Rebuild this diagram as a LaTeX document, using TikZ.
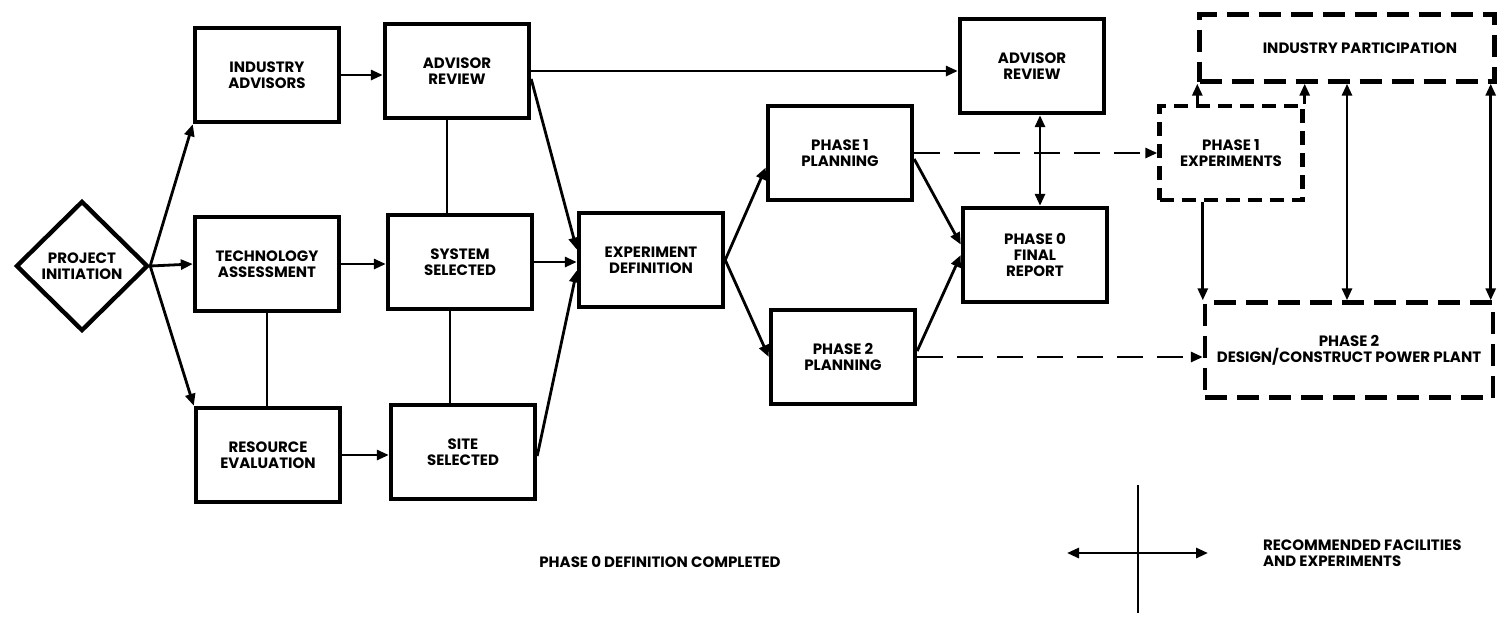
\documentclass[tikz,border=0pt]{standalone}
\usepackage{fontspec}
\setmainfont{Poppins}
\usetikzlibrary{arrows.meta,shapes.geometric}

\tikzset{
    stage/.style={draw, line width=2.2pt, minimum width=72pt, minimum height=47pt, inner sep=0pt, align=center, font=\fontsize{7.5}{7.8}\selectfont\bfseries},
    decision/.style={draw, diamond, line width=2.2pt, minimum width=66pt, minimum height=65pt, inner sep=0pt, align=center, font=\fontsize{7.5}{7.8}\selectfont\bfseries},
    future/.style={stage, dash pattern=on 11pt off 5pt},
    link/.style={line width=1.4pt},
    flow/.style={link, -{Triangle[length=6pt,width=5pt]}},
    both/.style={link, {Triangle[length=6pt,width=5pt]}-{Triangle[length=6pt,width=5pt]}},
    later/.style={flow, dash pattern=on 13pt off 7pt},
    note/.style={font=\fontsize{7.5}{7.8}\selectfont\bfseries, align=left}
}

\begin{document}
\begin{tikzpicture}[x=0.5pt, y=-0.5pt]
        \useasboundingbox[fill=white] (0,0) rectangle (1499,617);

        \node[decision] (init) at (82,266) {PROJECT\\INITIATION};

        \node[stage] (indadv) at (267,75) {INDUSTRY\\ADVISORS};
        \node[stage] (tech) at (267,264) {TECHNOLOGY\\ASSESSMENT};
        \node[stage] (res) at (268,455) {RESOURCE\\EVALUATION};

        \node[stage] (rev1) at (457,71) {ADVISOR\\REVIEW};
        \node[stage] (syssel) at (460,262) {SYSTEM\\SELECTED};
        \node[stage] (sitesel) at (463,452) {SITE\\SELECTED};

        \node[stage] (expdef) at (651,260) {EXPERIMENT\\DEFINITION};
        \node[stage] (ph1plan) at (840,153) {PHASE 1\\PLANNING};
        \node[stage] (ph2plan) at (843,357) {PHASE 2\\PLANNING};

        \node[stage] (rev2) at (1032,66) {ADVISOR\\REVIEW};
        \node[stage] (final) at (1035,255) {PHASE 0\\FINAL\\REPORT};

        \node[future, dash pattern=on 7pt off 4pt, minimum width=71.5pt] (ph1exp) at (1231,153) {PHASE 1\\EXPERIMENTS};
        \node[future, minimum width=147.5pt, minimum height=33.5pt] (indpart) at (1347,48) {\hspace{13pt}INDUSTRY PARTICIPATION};
        \node[future, minimum width=144pt, minimum height=47.5pt] (ph2) at (1349,350) {PHASE 2\\DESIGN/CONSTRUCT POWER PLANT};

        \draw[flow] (init.east) -- (indadv.south west);
        \draw[flow] (init.east) -- (tech.west);
        \draw[flow] (init.east) -- (res.north west);

        \draw[flow] (indadv.east) -- (indadv.east -| rev1.west);
        \draw[flow] (tech.east) -- (tech.east -| syssel.west);
        \draw[flow] (res.east) -- (res.east -| sitesel.west);

        \draw[link] (tech.south) -- (tech.south |- res.north);
        \draw[link] ([xshift=-5pt]rev1.south) -- ([xshift=-5pt]rev1.south |- syssel.north);
        \draw[link] ([xshift=-5pt]syssel.south) -- ([xshift=-5pt]syssel.south |- sitesel.north);

        \draw[flow] ([yshift=-4pt]rev1.east) -- (expdef.172);
        \draw[flow] (syssel.east) -- (syssel.east -| expdef.west);
        \draw[flow] ([yshift=-2pt]sitesel.east) -- (expdef.188);
        \draw[flow] (rev1.east) -- (rev1.east -| rev2.west);

        \draw[flow] (expdef.east) -- (ph1plan.191);
        \draw[flow] (expdef.east) -- (ph2plan.west);
        \draw[flow] ([yshift=-3pt]ph1plan.east) -- (final.172);
        \draw[flow] ([yshift=3pt]ph2plan.east) -- (final.west);
        \draw[both] ([xshift=4pt]rev2.south) -- ([xshift=4pt]rev2.south |- final.north);

        \draw[later] (ph1plan.east) -- (ph1exp.west);
        \draw[later] (ph2plan.east) -- (ph2plan.east -| ph2.west);

        \draw[flow] (ph1exp.north -| indpart.south west) -- (indpart.south west);
        \draw[flow] (ph1exp.north east) -- (ph1exp.north east |- indpart.south);
        \draw[both] (indpart.south) -- (indpart.south |- ph2.north);
        \draw[both] ([xshift=-3pt]indpart.south east) -- ([xshift=-3pt]indpart.south east |- ph2.north);
        \draw[flow] (ph1exp.south -| ph2.north west) -- (ph2.north west);

        \node[note] (phase0done) at (660,562) {PHASE 0 DEFINITION COMPLETED};

        \coordinate (legtop) at (1138,485);
        \coordinate (legbot) at (1138,613);
        \coordinate (legleft) at (1067,553);
        \coordinate (legright) at (1208,553);
        \draw[link] (legtop) -- (legbot);
        \draw[both] (legleft) -- (legright);
        \node[note, anchor=west] (legtext) at (1256,553) {RECOMMENDED FACILITIES\\AND EXPERIMENTS};
\end{tikzpicture}
\end{document}
